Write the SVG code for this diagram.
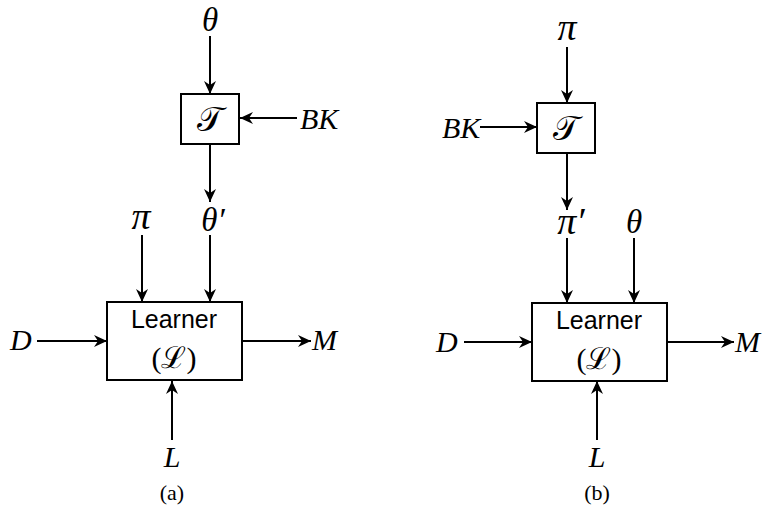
<svg xmlns="http://www.w3.org/2000/svg" width="764" height="508" viewBox="0 0 764 508">
<style>
.var{font-family:"Liberation Serif","DejaVu Serif",serif;font-style:italic;font-size:30px;fill:#000;}
.th{font-family:"Liberation Serif","DejaVu Serif",serif;font-style:italic;font-size:33px;fill:#000;}
.pi{font-family:"Liberation Serif","DejaVu Serif",serif;font-style:italic;font-size:38px;fill:#000;}
.cal{font-family:"DejaVu Serif","Liberation Serif","Noto Sans",serif;font-size:34px;fill:#000;}
.lab{font-family:"Liberation Sans",Arial,sans-serif;font-size:25px;fill:#000;}
.par{font-family:"Liberation Serif","DejaVu Serif",serif;font-size:30px;fill:#000;}
.cap{font-family:"Liberation Serif",serif;font-size:22px;fill:#000;}
.box{fill:#fff;stroke:#000;stroke-width:2;}
.ln{stroke:#000;stroke-width:2;fill:none;marker-end:url(#ah);}
</style>
<defs>
<marker id="ah" markerUnits="userSpaceOnUse" markerWidth="14" markerHeight="14" refX="13" refY="6" orient="auto" viewBox="0 0 14 12">
<path d="M0,0 L13,6 L0,12 L4,6 z" fill="#000"/>
</marker>
</defs>
<rect width="764" height="508" fill="#fff"/>
<g id="connectors">
<line class="ln" x1="210" y1="36" x2="210" y2="94"/>
<line class="ln" x1="297" y1="118" x2="240" y2="118"/>
<line class="ln" x1="210" y1="144" x2="210" y2="202"/>
<line class="ln" x1="142" y1="235" x2="142" y2="302"/>
<line class="ln" x1="210" y1="235" x2="210" y2="302"/>
<line class="ln" x1="37" y1="341" x2="107" y2="341"/>
<line class="ln" x1="242" y1="341" x2="311" y2="341"/>
<line class="ln" x1="172" y1="440" x2="172" y2="381"/>
<line class="ln" x1="567" y1="47" x2="567" y2="103"/>
<line class="ln" x1="480" y1="127" x2="537" y2="127"/>
<line class="ln" x1="567" y1="153" x2="567" y2="210"/>
<line class="ln" x1="567" y1="238" x2="567" y2="303"/>
<line class="ln" x1="634" y1="238" x2="634" y2="303"/>
<line class="ln" x1="464" y1="342" x2="532" y2="342"/>
<line class="ln" x1="667" y1="342" x2="734" y2="342"/>
<line class="ln" x1="597" y1="440" x2="597" y2="381"/>
</g>
<g id="a-theta"><text class="th" x="210" y="31" text-anchor="middle">θ</text></g>
<g id="a-T"><rect class="box" x="181" y="94" width="58" height="50"/><text class="cal" x="210" y="131" text-anchor="middle">𝒯</text></g>
<g id="a-BK"><text class="var" x="300" y="129">BK</text></g>
<g id="a-thetap"><text class="th" x="213" y="231" text-anchor="middle">θ′</text></g>
<g id="a-pi"><text class="pi" x="141" y="229" text-anchor="middle">π</text></g>
<g id="a-learner"><rect class="box" x="107" y="302" width="135" height="78"/><text class="lab" x="174" y="328" text-anchor="middle">Learner</text><text class="par" x="174" y="368" text-anchor="middle">(ℒ)</text></g>
<g id="a-D"><text class="var" x="10" y="350">D</text></g>
<g id="a-M"><text class="var" x="312" y="350">M</text></g>
<g id="a-L"><text class="var" x="172" y="467" text-anchor="middle">L</text></g>
<text class="cap" x="172" y="500" text-anchor="middle">(a)</text>
<g id="b-pi"><text class="pi" x="567" y="40" text-anchor="middle">π</text></g>
<g id="b-T"><rect class="box" x="537" y="103" width="58" height="50"/><text class="cal" x="566" y="140" text-anchor="middle">𝒯</text></g>
<g id="b-BK"><text class="var" x="442" y="138">BK</text></g>
<g id="b-pip"><text class="pi" x="571" y="234" text-anchor="middle">π′</text></g>
<g id="b-theta"><text class="th" x="634" y="233" text-anchor="middle">θ</text></g>
<g id="b-learner"><rect class="box" x="532" y="303" width="135" height="78"/><text class="lab" x="599" y="329" text-anchor="middle">Learner</text><text class="par" x="599" y="369" text-anchor="middle">(ℒ)</text></g>
<g id="b-D"><text class="var" x="436" y="352">D</text></g>
<g id="b-M"><text class="var" x="735" y="352">M</text></g>
<g id="b-L"><text class="var" x="597" y="467" text-anchor="middle">L</text></g>
<text class="cap" x="597" y="500" text-anchor="middle">(b)</text>
</svg>
